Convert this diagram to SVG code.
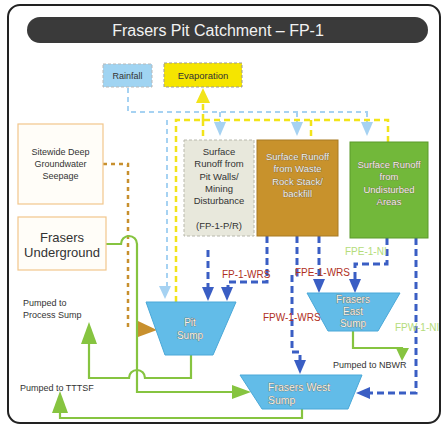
<svg xmlns="http://www.w3.org/2000/svg" width="445" height="427" viewBox="0 0 445 427">
<style>
text{font-family:"Liberation Sans",Arial,sans-serif}
.c{text-anchor:middle}
.dk{fill:#333}
.lt{fill:#f6f3ea;stroke:#6a5e48;stroke-width:0.6;paint-order:stroke}
.red{fill:#b0301e;font-size:10px}
.lg{fill:#b4dc7a;font-size:10px}
.lb{fill:none;stroke:#a6d2f2;stroke-width:2;stroke-dasharray:5 4}
.yl{fill:none;stroke:#f2e41a;stroke-width:2.5;stroke-dasharray:6 4}
.db{fill:none;stroke:#3a5ec4;stroke-width:3;stroke-dasharray:7 4}
.or{fill:none;stroke:#c8902e;stroke-width:2.5;stroke-dasharray:4 4}
.gr{fill:none;stroke:#86c440;stroke-width:2.2}
.sump{fill:#62bce8;stroke:#4aa8d8;stroke-width:1}
</style>
<rect x="8" y="5" width="432" height="418" rx="12" fill="#fff" stroke="#222" stroke-width="2"/>
<g id="title">
<rect x="27" y="17" width="401" height="26" rx="13" fill="#3a3a3a"/>
<text x="218" y="35.5" class="c" fill="#f2f2f2" font-size="16">Frasers Pit Catchment – FP-1</text>
</g>
<g id="connectors">
<path class="lb" d="M128 88V112H368"/>
<path class="lb" d="M220 112V124M297 112V124M367 112V124"/>
<path class="lb" d="M167 120V286"/>
<g fill="#a6d2f2">
<path d="M214 122H226L220 136Z"/>
<path d="M291 122H303L297 136Z"/>
<path d="M361 122H373L367 136Z"/>
<path d="M159 286H171L165 299Z"/>
</g>
<path class="yl" d="M176 302V120H388V142M203 120V142M311 120V140"/>
<path class="yl" d="M203 120V100" stroke-dasharray="none"/>
<path d="M196 103H210L203 88Z" fill="#f2e41a"/>
<path class="or" d="M103 164H128V328"/>
<path d="M138 321L157 330L138 337Z" fill="#c8902e"/>
<path class="gr" d="M106 244H121A8 8 0 0 1 137 244V392H236"/>
<path d="M232 385L251 392L232 399Z" fill="#86c440"/>
<path class="gr" d="M191 355V378H145A8 8 0 0 0 129 378H89V340"/>
<path d="M81 344L89 322L97 344Z" fill="#86c440"/>
<path class="gr" d="M302 409V418H60V412"/>
<path d="M52 413L60 391L68 413Z" fill="#86c440"/>
<path class="gr" d="M353 331V348H402V352"/>
<path d="M396 348H409L402 361Z" fill="#86c440"/>
<path class="db" d="M208 250V288"/>
<path class="db" d="M267 236V282H228V288"/>
<path class="db" d="M297 236V275H292V352H300V360"/>
<path class="db" d="M319 236V280"/>
<path class="db" d="M387 238V264H355V280"/>
<path class="db" d="M416 238V393H370"/>
<g fill="#3a5ec4">
<path d="M202 287H214L208 301Z"/>
<path d="M221 287H233L227 301Z"/>
<path d="M313 279H325L319 293Z"/>
<path d="M349 279H361L355 293Z"/>
<path d="M294 360H306L300 374Z"/>
<path d="M370 387V399L356 393Z"/>
</g>
</g>
<g id="rainfall">
<rect x="103" y="64" width="49" height="23" fill="#a0d4f2" stroke="#b8b8b8" stroke-dasharray="3 2"/>
<text x="127.5" y="79" class="c dk" font-size="9">Rainfall</text>
</g>
<g id="evaporation">
<rect x="164" y="63" width="78" height="24" fill="#f5e500" stroke="#999" stroke-dasharray="3 2"/>
<text x="203" y="78.5" class="c dk" font-size="9.5">Evaporation</text>
</g>
<g id="seepage">
<rect x="18" y="124" width="85" height="80" fill="#fffdf8" stroke="#f2c68c" stroke-width="1.2"/>
<text x="60.5" y="155" class="c dk" font-size="9">Sitewide Deep</text>
<text x="60.5" y="167" class="c dk" font-size="9">Groundwater</text>
<text x="60.5" y="179" class="c dk" font-size="9">Seepage</text>
</g>
<g id="underground">
<rect x="18" y="217" width="88" height="53" fill="#fffdf8" stroke="#f2c68c" stroke-width="1.2"/>
<text x="62" y="242" class="c dk" font-size="13">Frasers</text>
<text x="62" y="257" class="c dk" font-size="13">Underground</text>
</g>
<g id="pitwalls">
<rect x="184" y="140" width="70" height="96" fill="#e8e8dc" stroke="#b8b8ac" stroke-dasharray="3 2"/>
<g class="c dk" font-size="9.5">
<text x="219" y="155">Surface</text>
<text x="219" y="167">Runoff from</text>
<text x="219" y="180">Pit Walls/</text>
<text x="219" y="192">Mining</text>
<text x="219" y="204">Disturbance</text>
<text x="219" y="229">(FP-1-P/R)</text>
</g>
</g>
<g id="wasterock">
<rect x="257" y="140" width="81" height="96" fill="#c8922c" stroke="#a87a22"/>
<g class="c lt" font-size="9.5">
<text x="297.5" y="160">Surface Runoff</text>
<text x="297.5" y="172">from Waste</text>
<text x="297.5" y="185">Rock Stack/</text>
<text x="297.5" y="197">backfill</text>
</g>
</g>
<g id="undisturbed">
<rect x="350" y="142" width="78" height="96" fill="#72b83a" stroke="#5a9a2a"/>
<g class="c lt" font-size="9.5">
<text x="389" y="168">Surface Runoff</text>
<text x="389" y="180">from</text>
<text x="389" y="193">Undisturbed</text>
<text x="389" y="205">Areas</text>
</g>
</g>
<g id="pitsump">
<path class="sump" d="M146 302H236L213 355H165Z"/>
<text x="190" y="326" class="c lt" font-size="10">Pit</text>
<text x="190" y="339" class="c lt" font-size="10">Sump</text>
</g>
<g id="eastsump">
<path class="sump" d="M307 293H400L378 331H328Z"/>
<text x="353" y="303" class="c lt" font-size="10">Frasers</text>
<text x="353" y="315" class="c lt" font-size="10">East</text>
<text x="353" y="327" class="c lt" font-size="10">Sump</text>
</g>
<g id="westsump">
<path class="sump" d="M240 375H362L348 409H262Z"/>
<text x="268" y="391" class="lt" font-size="10.5">Frasers West</text>
<text x="268" y="404" class="lt" font-size="10.5">Sump</text>
</g>
<g id="labels">
<text x="222" y="278" class="red">FP-1-WRS</text>
<text x="295" y="276" class="red">FPE-1-WRS</text>
<text x="263" y="321" class="red">FPW-1-WRS</text>
<text x="345" y="255" class="lg">FPE-1-NI</text>
<text x="395" y="331" class="lg">FPW-1-NI</text>
<text x="23" y="306" class="dk" font-size="9">Pumped to</text>
<text x="23" y="318" class="dk" font-size="9">Process Sump</text>
<text x="20" y="391" class="dk" font-size="9">Pumped to TTTSF</text>
<text x="333" y="368" class="dk" font-size="9">Pumped to NBWR</text>
</g>
</svg>
